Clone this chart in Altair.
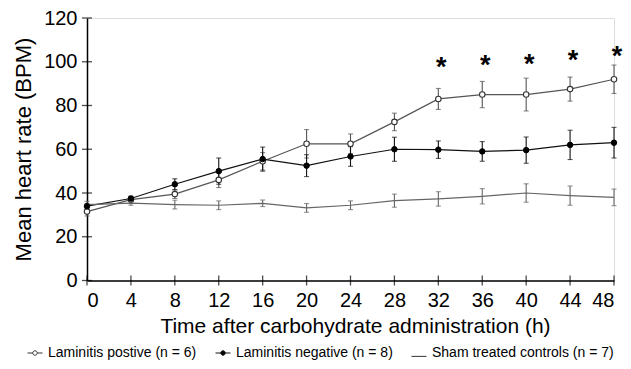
import altair as alt
import pandas as pd

hours = [0, 4, 8, 12, 16, 20, 24, 28, 32, 36, 40, 44, 48]
series_names = ["Laminitis postive (n = 6)", "Laminitis negative (n = 8)", "Sham treated controls (n = 7)"]

pos_mean = [31.5, 37.0, 39.5, 46.0, 54.5, 62.5, 62.5, 72.5, 83.0, 85.0, 85.0, 87.5, 92.0]
pos_err = [2.0, 1.0, 2.0, 3.5, 4.0, 6.5, 4.5, 4.0, 4.8, 6.0, 7.5, 5.5, 6.5]
neg_mean = [34.0, 37.5, 44.0, 50.0, 55.5, 52.5, 56.7, 60.0, 59.8, 59.0, 59.6, 62.0, 63.0]
neg_err = [1.0, 1.0, 2.5, 6.0, 5.5, 5.0, 4.5, 5.5, 4.0, 4.5, 6.0, 6.7, 7.0]
sham_mean = [34.7, 35.4, 34.7, 34.4, 35.3, 33.2, 34.4, 36.5, 37.3, 38.5, 40.0, 38.8, 38.0]
sham_err = [1.5, 1.0, 2.0, 2.0, 1.5, 2.0, 2.0, 3.0, 3.3, 3.5, 4.2, 4.4, 3.8]

x_ticks = [0, 4, 8, 12, 16, 20, 24, 28, 32, 36, 40, 44, 48]
y_ticks = [0, 20, 40, 60, 80, 100, 120]
ast_hours = [32, 36, 40, 44, 48]
ast_y = [99.3, 100.5, 100.8, 102.6, 104.6]
ast_text = ["*", "*", "*", "*", "*"]

FONT = "Liberation Sans"
line_colors = ["#555555", "#111111", "#666666"]

rows = []
for name, m, e in zip(series_names, [pos_mean, neg_mean, sham_mean], [pos_err, neg_err, sham_err]):
    for h, mv, ev in zip(hours, m, e):
        rows.append({"series": name, "hour": h, "mean": mv, "lo": mv - ev, "hi": mv + ev})
df = pd.DataFrame(rows)
xt = pd.DataFrame({"t": x_ticks})
yt = pd.DataFrame({"t": y_ticks})
ast = pd.DataFrame({"hour": ast_hours, "y": ast_y, "txt": ast_text})

xscale = alt.Scale(domain=[0, 48], nice=False, zero=False)
yscale = alt.Scale(domain=[0, 120], nice=False, zero=False)
x_axis = alt.Axis(values=x_ticks, title="Time after carbohydrate administration (h)", ticks=False,
                  labelFontSize=20, labelPadding=10, labelColor="black", labelFont=FONT,
                  domainColor="black", domainWidth=1.5, grid=False,
                  titleFontSize=21, titleFont=FONT, titleFontWeight="normal", titleColor="black",
                  titleX=268, titleY=52, titleBaseline="alphabetic", titleAlign="center")
y_axis = alt.Axis(values=y_ticks, title="Mean heart rate (BPM)", ticks=False,
                  labelFontSize=20, labelPadding=10, labelColor="black", labelFont=FONT,
                  domainColor="black", domainWidth=1.5, grid=False,
                  titleFontSize=22, titleFont=FONT, titleFontWeight="normal", titleColor="black",
                  titleX=-64, titleY=131, titleAngle=-90, titleAlign="center", titleBaseline="middle")

X = alt.X("hour:Q", scale=xscale, axis=x_axis)

layers = []
# axis ticks crossing the axis lines
layers.append(alt.Chart(xt).mark_tick(orient="vertical", size=10, thickness=1.3, color="black").encode(
    x=alt.X("t:Q", scale=xscale, axis=x_axis), y=alt.datum(0, scale=yscale)))
layers.append(alt.Chart(yt).mark_tick(orient="horizontal", size=10, thickness=1.3, color="black").encode(
    y=alt.Y("t:Q", scale=yscale, axis=y_axis), x=alt.datum(0, scale=xscale)))

for name, col in zip(series_names, line_colors):
    base = alt.Chart(df).transform_filter(alt.datum.series == name)
    layers.append(base.mark_line(color=col, strokeWidth=1.2).encode(
        x=X, y=alt.Y("mean:Q", scale=yscale, axis=y_axis)))
    layers.append(base.mark_rule(color=col, strokeWidth=1.1).encode(
        x=X, y=alt.Y("lo:Q", scale=yscale, axis=y_axis), y2="hi:Q"))
    layers.append(base.mark_tick(orient="horizontal", size=5, thickness=1.1, color=col).encode(
        x=X, y=alt.Y("lo:Q", scale=yscale, axis=y_axis)))
    layers.append(base.mark_tick(orient="horizontal", size=5, thickness=1.1, color=col).encode(
        x=X, y=alt.Y("hi:Q", scale=yscale, axis=y_axis)))

# markers
layers.append(alt.Chart(df).transform_filter(alt.datum.series == series_names[0]).mark_point(
    shape="circle", size=30, filled=True, fill="white", stroke="#333333", strokeWidth=1.1, opacity=1).encode(
    x=X, y=alt.Y("mean:Q", scale=yscale, axis=y_axis)))
layers.append(alt.Chart(df).transform_filter(alt.datum.series == series_names[1]).mark_point(
    shape="circle", size=30, filled=True, fill="black", stroke="black", strokeWidth=1, opacity=1).encode(
    x=X, y=alt.Y("mean:Q", scale=yscale, axis=y_axis)))

# asterisks
layers.append(alt.Chart(ast).mark_text(font=FONT, fontSize=27, fontWeight="bold", color="black",
                                       baseline="middle", dy=5, dx=3).encode(
    x=X, y=alt.Y("y:Q", scale=yscale, axis=y_axis), text="txt:N"))

# legend layer
path_pos = "M-1,0H-0.3M0.3,0H1M0.3,0A0.3,0.3,0,1,1,-0.3,0A0.3,0.3,0,1,1,0.3,0"
path_neg = "M-1,0H-0.3M0.3,0H1M0.3,0A0.3,0.3,0,1,1,-0.3,0A0.3,0.3,0,1,1,0.3,0"
path_sham = "M-1,0.45H1"
leg = alt.Legend(title=None, orient="none", legendX=-60, legendY=327, direction="horizontal",
                 labelFont=FONT, labelFontSize=14, labelColor="black", labelLimit=400,
                 symbolSize=225, symbolStrokeWidth=1, symbolOpacity=1, labelOffset=5,
                 columnPadding=16, padding=0)
layers.append(alt.Chart(df).mark_point(opacity=0).encode(
    x=X, y=alt.Y("mean:Q", scale=yscale, axis=y_axis),
    shape=alt.Shape("series:N", scale=alt.Scale(domain=series_names, range=[path_pos, path_neg, path_sham]), legend=leg),
    fill=alt.Fill("series:N", scale=alt.Scale(domain=series_names, range=["white", "black", "transparent"]), legend=leg),
    stroke=alt.Stroke("series:N", scale=alt.Scale(domain=series_names, range=["#333333", "#111111", "#333333"]), legend=leg),
))

chart = alt.layer(*layers).properties(
    width=527, height=262.5,
    autosize=alt.AutoSizeParams(type="none"),
    padding={"left": 79, "top": 10, "right": 9, "bottom": 80},
).configure_view(stroke=None).configure(background="white")

chart.save("out.html", embed_options={"renderer": "svg", "actions": False})
